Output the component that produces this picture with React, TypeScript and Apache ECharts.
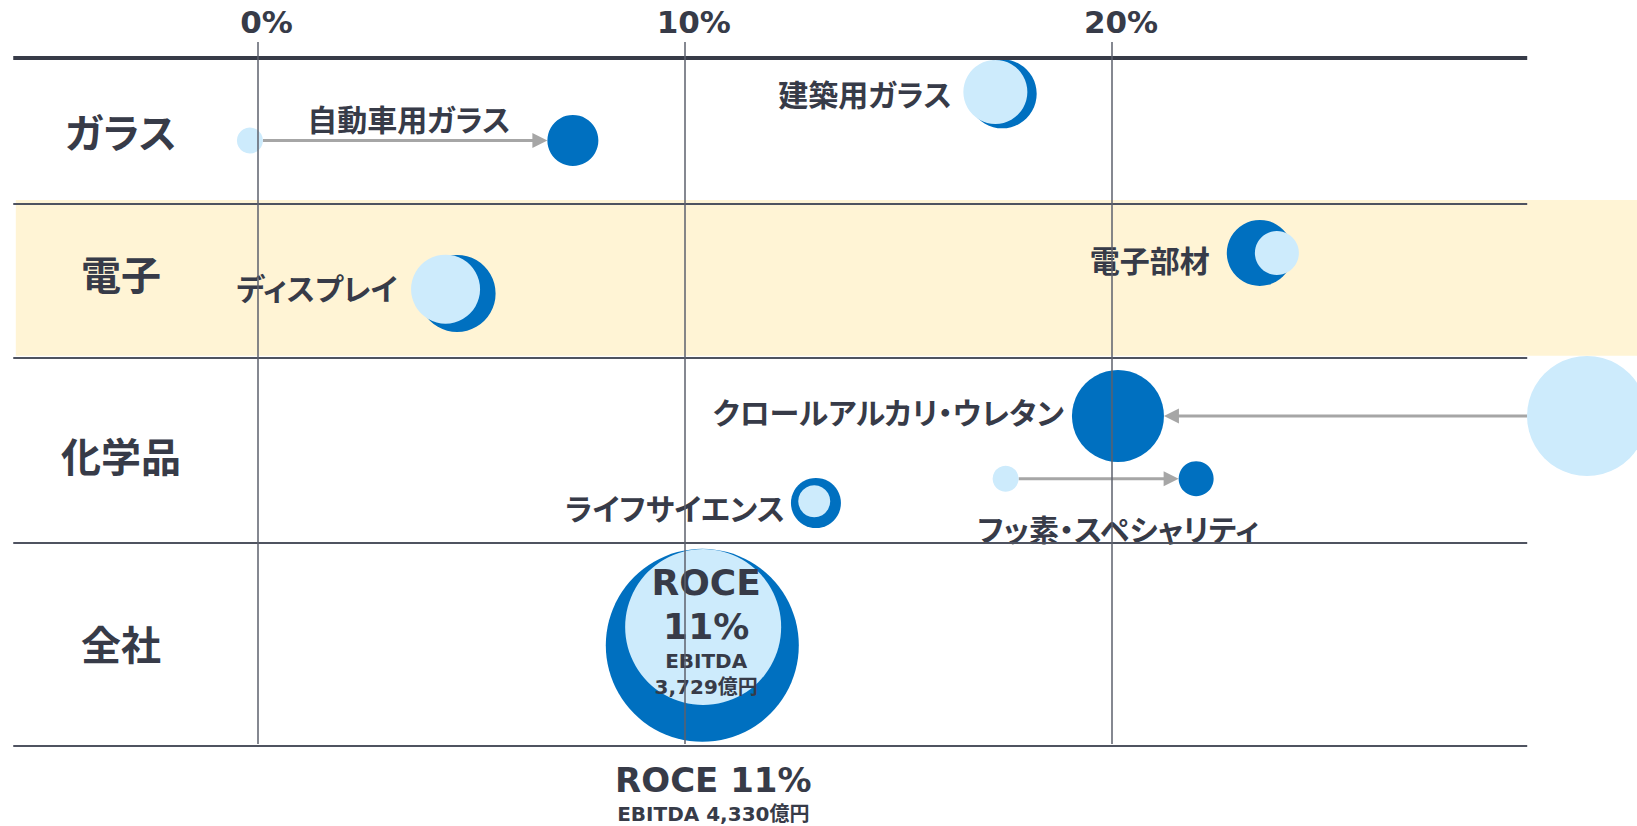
import React, { useEffect, useRef } from "react";
import * as echarts from "echarts";

// ---------- data ----------
const rows = ["ガラス", "電子", "化学品", "全社"];
// row boundaries on the vertical layout scale (0 = top of plot, 100 = bottom)
const rowEdges = [2.2, 23.0, 44.84, 71.07, 99.93];
const rowLabelLane = [12.6, 32.8, 58.7, 85.4];
const xTicks = [0, 10, 20];

const businesses = [
  "自動車用ガラス",
  "建築用ガラス",
  "ディスプレイ",
  "電子部材",
  "クロールアルカリ・ウレタン",
  "フッ素・スペシャリティ",
  "ライフサイエンス",
  "全社",
];
// ROCE (%) — light bubbles (before) and dark bubbles (after)
const roceBefore = [-0.18, 17.27, 4.4, 23.86, 31.12, 17.51, 13.03, 10.43];
const roceAfter = [7.38, 17.43, 4.67, 23.46, 20.14, 21.97, 13.07, 10.41];
// vertical lane within the rows (layout scale 0–100)
const laneBefore = [13.99, 7.1, 35.11, 29.97, 53.13, 62.03, 65.24, 83.1];
const laneAfter = [13.99, 7.36, 35.72, 29.97, 53.13, 62.03, 65.48, 85.7];
// bubble magnitude (EBITDA, drawn as diameter)
const sizeBefore = [26, 64, 69, 44, 120, 26, 32, 156];
const sizeAfter = [51, 69, 77, 66, 92, 35, 50, 193];
// businesses with a movement arrow (light -> dark)
const arrowItems = [0, 4, 5];
// company total annotations
const totalRoce = ["11%", "11%"];
const totalEbitda = ["3,729億円", "4,330億円"];

// ---------- styles ----------
const DARK = "#0070C0";
const LIGHT = "#CDEBFC";
const TEXT = "#373B48";
const CJK = '"Noto Sans CJK JP", sans-serif';
const LATIN = '"DejaVu Sans", "Noto Sans CJK JP", sans-serif';
const X_MIN = -6.03;
const X_MAX = 32.29;

const labelLayouts: any[] = [
  { position: "inside", offset: [-164, -22] },
  { position: "left", distance: 16, offset: [0, -1] },
  { position: "left", distance: 21, offset: [0, -6] },
  { position: "left", distance: 17, offset: [0, 6] },
  { position: "left", distance: 8, offset: [0, -5] },
  { position: "inside", offset: [-78, 49] },
  { position: "left", distance: 6, offset: [0, 4] },
  null,
];

export default function App() {
  const ref = useRef<HTMLDivElement>(null);

  useEffect(() => {
    if (!ref.current) return;
    const chart = echarts.init(ref.current, null, { renderer: "svg" });

    const baseLabel = {
      color: TEXT,
      fontWeight: "bold",
      fontSize: 30,
      fontFamily: CJK,
    };

    const last = businesses.length - 1;

    const darkData = businesses.map((name, i) => {
      const item: any = {
        name,
        value: [roceAfter[i], laneAfter[i]],
        symbolSize: sizeAfter[i],
      };
      if (i === last) {
        item.label = {
          show: true,
          position: "inside",
          offset: [11, 149],
          formatter: `{c|ROCE ${totalRoce[1]}}\n{d|EBITDA ${totalEbitda[1]}}`,
          rich: {
            c: { fontSize: 34, lineHeight: 40, fontWeight: "bold", color: TEXT, fontFamily: LATIN },
            d: { fontSize: 20, lineHeight: 28, fontWeight: "bold", color: TEXT, fontFamily: LATIN },
          },
        };
      } else {
        item.label = { show: true, formatter: name, ...baseLabel, ...labelLayouts[i] };
      }
      return item;
    });

    const lightData = businesses.map((name, i) => {
      const item: any = {
        name,
        value: [roceBefore[i], laneBefore[i]],
        symbolSize: sizeBefore[i],
      };
      if (i === last) {
        item.label = {
          show: true,
          position: "inside",
          offset: [3, 3],
          formatter: `{a|ROCE}\n{a|${totalRoce[0]}}\n{b|EBITDA}\n{b|${totalEbitda[0]}}`,
          rich: {
            a: { fontSize: 36, lineHeight: 44, fontWeight: "bold", color: TEXT, fontFamily: LATIN },
            b: { fontSize: 20, lineHeight: 26, fontWeight: "bold", color: TEXT, fontFamily: LATIN },
          },
        };
      }
      return item;
    });

    const arrowData = arrowItems.map((i) => [
      roceBefore[i],
      laneBefore[i],
      roceAfter[i],
      laneAfter[i],
      sizeBefore[i],
      sizeAfter[i],
    ]);

    const rowLabelData = rows.map((r, i) => [-3.2, rowLabelLane[i], i]);

    const lineX0 = -5.72;
    const lineX1 = 29.72;
    const frameLines: any[] = rowEdges.map((y, i) => [
      {
        coord: [lineX0, y],
        lineStyle: {
          color: i === 0 ? TEXT : "#4F5360",
          width: i === 0 ? 4 : 2,
          type: "solid",
        },
      },
      { coord: [lineX1, y] },
    ]);
    xTicks.forEach((t) => {
      frameLines.push([
        { coord: [t, 0], lineStyle: { color: "#5D616D", width: 1.5, type: "solid" } },
        { coord: [t, 99.7] },
      ]);
    });

    const option: any = {
      animation: false,
      grid: { left: 0, right: 0, top: 42, bottom: 80, containLabel: false },
      xAxis: {
        type: "value",
        position: "top",
        min: X_MIN,
        max: X_MAX,
        axisLine: { show: false },
        axisTick: { show: false },
        splitLine: { show: false },
        axisLabel: {
          customValues: xTicks,
          formatter: "{value}%",
          color: TEXT,
          fontSize: 31,
          fontWeight: "bold",
          fontFamily: LATIN,
          margin: 5,
          padding: [0, 0, 0, 18],
        },
      },
      yAxis: {
        type: "value",
        inverse: true,
        min: 0,
        max: 100,
        show: false,
      },
      series: [
        {
          type: "line",
          data: [],
          z: 0,
          silent: true,
          markArea: {
            silent: true,
            itemStyle: { color: "#FFF4D5" },
            data: [[{ xAxis: -5.66, yAxis: 22.44 }, { xAxis: X_MAX, yAxis: 44.56 }]],
          },
        },
        {
          type: "line",
          data: [],
          z: 1,
          silent: true,
          markLine: {
            silent: true,
            symbol: ["none", "none"],
            label: { show: false },
            data: frameLines,
          },
        },
        {
          type: "custom",
          z: 2,
          silent: true,
          clip: false,
          data: arrowData,
          renderItem: (params: any, api: any) => {
            const a = api.coord([api.value(0), api.value(1)]);
            const b = api.coord([api.value(2), api.value(3)]);
            const r1 = api.value(4) / 2;
            const r2 = api.value(5) / 2;
            const dx = b[0] - a[0];
            const dy = b[1] - a[1];
            const len = Math.hypot(dx, dy) || 1;
            const ux = dx / len;
            const uy = dy / len;
            const sx = a[0] + ux * r1;
            const sy = a[1] + uy * r1;
            const tx = b[0] - ux * r2;
            const ty = b[1] - uy * r2;
            const hl = 15;
            const hw = 7.5;
            const bx = tx - ux * hl;
            const by = ty - uy * hl;
            const px = -uy;
            const py = ux;
            const color = "#A6A6A6";
            return {
              type: "group",
              children: [
                {
                  type: "line",
                  shape: { x1: sx, y1: sy, x2: bx + ux, y2: by + uy },
                  style: { stroke: color, lineWidth: 3 },
                },
                {
                  type: "polygon",
                  shape: {
                    points: [
                      [tx, ty],
                      [bx + px * hw, by + py * hw],
                      [bx - px * hw, by - py * hw],
                    ],
                  },
                  style: { fill: color },
                },
              ],
            };
          },
        },
        {
          type: "scatter",
          name: "after",
          z: 3,
          silent: true,
          clip: false,
          symbol: "circle",
          itemStyle: { color: DARK, opacity: 1 },
          data: darkData,
        },
        {
          type: "scatter",
          name: "before",
          z: 4,
          silent: true,
          clip: false,
          symbol: "circle",
          itemStyle: { color: LIGHT, opacity: 1 },
          label: { show: false },
          data: lightData,
        },
        {
          type: "custom",
          name: "rows",
          z: 5,
          silent: true,
          clip: false,
          data: rowLabelData,
          renderItem: (params: any, api: any) => {
            const p = api.coord([api.value(0), api.value(1)]);
            return {
              type: "text",
              x: p[0],
              y: p[1],
              style: {
                text: rows[api.value(2)],
                fill: TEXT,
                fontSize: 40,
                fontWeight: "bold",
                fontFamily: CJK,
                align: "center",
                verticalAlign: "middle",
              },
            };
          },
        },
      ],
    };

    chart.setOption(option);
    return () => chart.dispose();
  }, []);

  return (
    <>
      <style>{`svg text { font-feature-settings: "palt" 1 !important; }`}</style>
      <div
        ref={ref}
        style={{ position: "fixed", left: 0, top: 0, width: 1637, height: 826, background: "#fff" }}
      />
    </>
  );
}
